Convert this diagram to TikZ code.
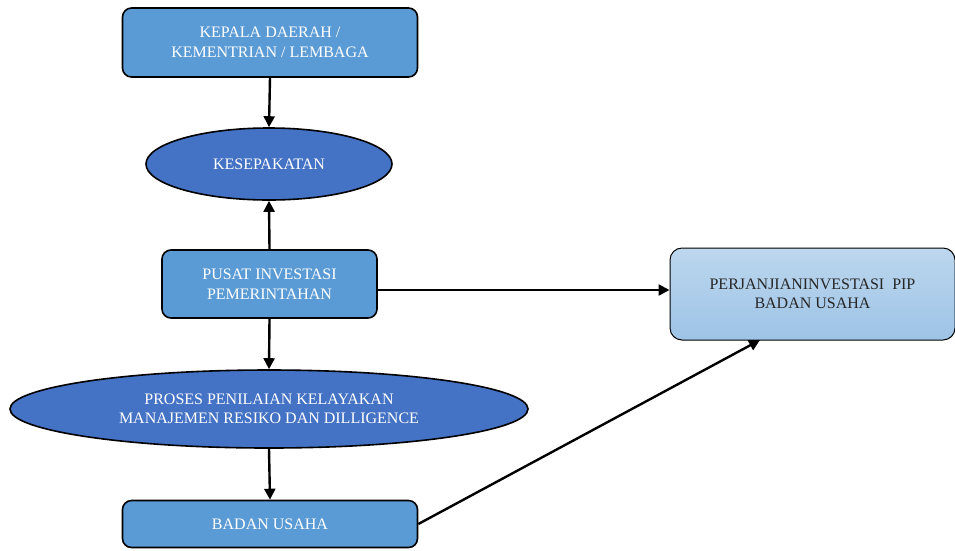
\documentclass[tikz,border=0pt]{standalone}
\usepackage{fontspec}
\setmainfont{Liberation Serif}
\usetikzlibrary{shapes.geometric,arrows.meta}
\definecolor{boxblue}{HTML}{5B9BD5}
\definecolor{ellblue}{HTML}{4472C4}
\definecolor{lighttop}{HTML}{BDD7EE}
\definecolor{lightbot}{HTML}{9DC3E6}
\tikzset{
  every node/.style={font=\fontsize{16}{19.5}\selectfont, align=center, text=white},
  rbox/.style={draw=black, line width=1.6pt, rounded corners=9pt, fill=boxblue, inner sep=0pt},
  ell/.style={draw=black, line width=1.6pt, ellipse, fill=ellblue, inner sep=0pt},
  gbox/.style={draw=black, line width=1pt, rounded corners=12pt, top color=lighttop, bottom color=lightbot, inner sep=0pt, text=black!85},
  conn/.style={draw=black, line width=2.4pt, -{Triangle[length=11pt,width=11pt]}}
}
\begin{document}
\begin{tikzpicture}[x=1pt,y=-1pt]
\useasboundingbox (0,0) rectangle (955,550);
\node[rbox, minimum width=295pt, minimum height=69pt] (kd) at (270,42.5) {KEPALA DAERAH /\\KEMENTRIAN / LEMBAGA};
\node[ell, minimum width=246pt, minimum height=72pt] (ks) at (269,164) {KESEPAKATAN};
\node[rbox, minimum width=215pt, minimum height=68pt] (pip) at (269.5,284) {PUSAT INVESTASI\\PEMERINTAHAN};
\node[ell, minimum width=518pt, minimum height=78pt] (pr) at (269,409) {PROSES PENILAIAN KELAYAKAN\\MANAJEMEN RESIKO DAN DILLIGENCE};
\node[rbox, minimum width=295pt, minimum height=47pt] (bu) at (270,524) {BADAN USAHA};
\node[gbox, minimum width=285pt, minimum height=92pt] (pj) at (812.5,294) {PERJANJIANINVESTASI\ \ PIP\\BADAN USAHA};
\coordinate (pjb) at (760,340);
\draw[conn] (kd.south) -- (ks.north);
\draw[conn] (pip.north) -- (ks.south);
\draw[conn] (pip.south) -- (pr.north);
\draw[conn] (pr.south) -- (bu.north);
\draw[conn] (pip.east |- 0,290) -- (pj.west |- 0,290);
\draw[conn] (bu.east) -- (pjb);
\end{tikzpicture}
\end{document}
